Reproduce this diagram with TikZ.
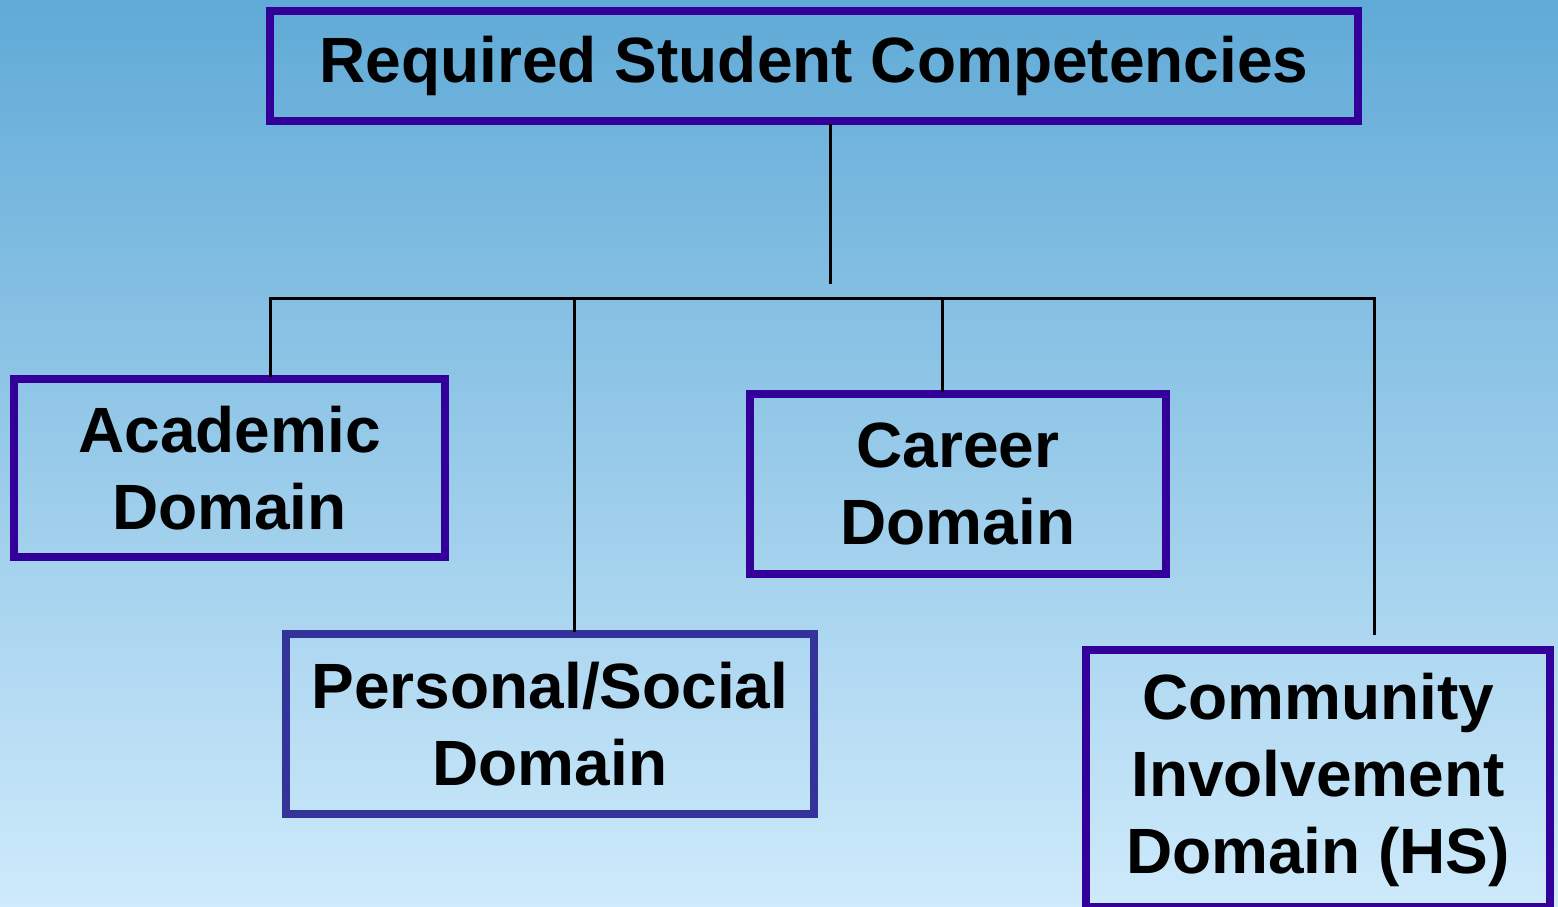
\documentclass[tikz,border=0pt]{standalone}
\usepackage{fontspec}
\setmainfont{Liberation Sans}
\definecolor{bgtop}{RGB}{96,170,215}
\definecolor{bgbot}{RGB}{206,234,251}
\definecolor{boxline}{RGB}{51,0,153}
\definecolor{boxlinetwo}{RGB}{51,51,153}
\begin{document}
\begin{tikzpicture}[x=1pt,y=-1pt,draw=black!100]
	\def \busht{298}
	\def \trunkend{282}
	\tikzstyle{t-node}=[draw=boxline,line width=8pt,text centered,inner sep=0pt,font=\fontsize{64}{77}\selectfont\bfseries]
	\tikzstyle{d-node}=[draw=boxline,line width=8pt,align=center,inner sep=0pt,font=\fontsize{64}{77}\selectfont\bfseries]
	\tikzstyle{link}=[line width=3pt,line cap=rect]
	% background
	\shade[top color=bgtop,bottom color=bgbot] (0,0) rectangle (1558,906);
	\useasboundingbox (0,0) rectangle (1558,906);

	% title
	\node[t-node,minimum width=1088pt,minimum height=110pt] (top) at (814,66) {Required Student Competencies};

	% domains
	\node[d-node,minimum width=431pt,minimum height=178pt] (acad) at (229.5,468) {Academic\\Domain};
	\node[d-node,draw=boxlinetwo,minimum width=528pt,minimum height=180pt] (pers) at (550,724) {Personal/Social\\Domain};
	\node[d-node,minimum width=416pt,minimum height=180pt] (car) at (958,484) {Career\\Domain};
	\node[d-node,minimum width=464pt,minimum height=257pt] (comm) at (1318,778.5) {\rule{0pt}{50pt}Community\\Involvement\\Domain (HS)};

	% bus
	\coordinate (trunk) at (830,\trunkend);
	\coordinate (b0) at (270,\busht);
	\coordinate (b1) at (574,\busht);
	\coordinate (b2) at (942,\busht);
	\coordinate (b3) at (1374,\busht);
	\coordinate (e3) at (1374,633);

	\path[link]
		(trunk |- top.south)	edge	(trunk)
		(b0)	edge	(b3)
		(b0)	edge	(b0 |- acad.north)
		(b1)	edge	(b1 |- pers.north)
		(b2)	edge	(b2 |- car.north)
		(b3)	edge	(e3);
\end{tikzpicture}
\end{document}
